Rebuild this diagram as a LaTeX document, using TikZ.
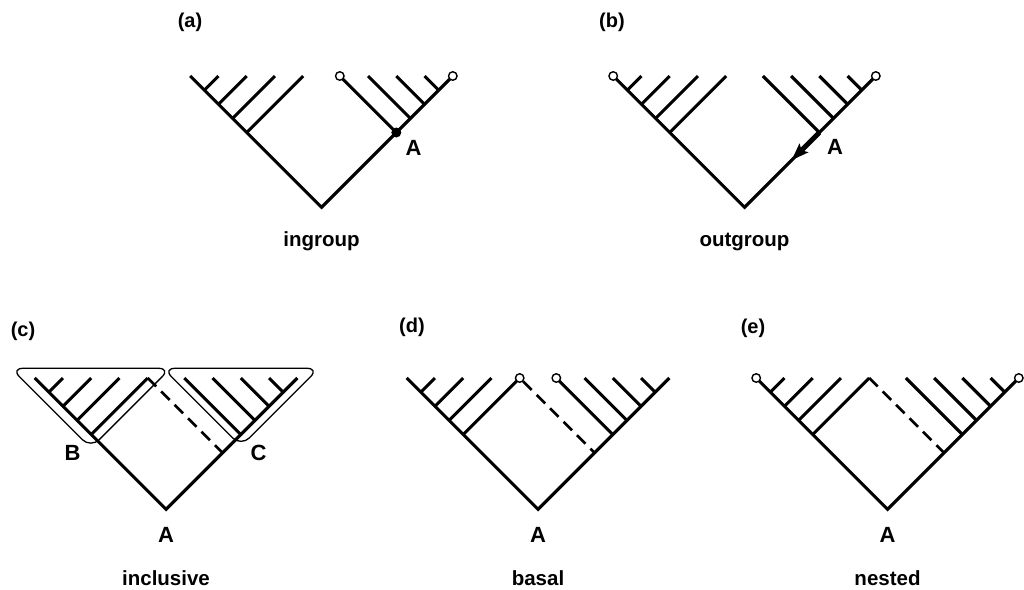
\documentclass[tikz,border=0pt]{standalone}
\usepackage{fontspec}
\setmainfont{Liberation Sans}
\usetikzlibrary{arrows.meta,calc}
\newcommand\cladetree[3]{%
  \coordinate (#1root) at (#2,#3+131.3);
  \foreach \k/\d in {0/18.3,1/46.55,2/74.8,3/103.05,4/131.3}{%
    \coordinate (#1L\k) at ({#2-\d},#3);
    \coordinate (#1R\k) at ({#2+\d},#3);
    \coordinate (#1LJ\k) at ({#2-(131.3+\d)/2},{#3+(131.3-\d)/2});
    \coordinate (#1RJ\k) at ({#2+(131.3+\d)/2},{#3+(131.3-\d)/2});
  }%
  \coordinate (#1D) at ({#2+(131.3-18.3)/2},{#3+(131.3+18.3)/2});
  \draw[branch] (#1L4) -- (#1root) -- (#1R4);
  \foreach \k in {0,...,3}{%
    \draw[branch] (#1L\k) -- (#1LJ\k);
    \draw[branch] (#1R\k) -- (#1RJ\k);
  }%
}
\begin{document}
\begin{tikzpicture}[x=1pt,y=-1pt,
  branch/.style={line width=3.1pt},
  dashline/.style={line width=2.6pt,dash pattern=on 12pt off 7pt},
  tipcirc/.style={circle,draw,fill=white,inner sep=0pt,minimum size=8.5pt,line width=1.4pt},
  dotnode/.style={circle,fill=black,inner sep=0pt,minimum size=10pt},
  hull/.style={line width=1.3pt,rounded corners=12pt},
  lab/.style={font=\fontsize{20}{24}\selectfont\bfseries,inner sep=0pt},
  letter/.style={font=\fontsize{22}{26}\selectfont\bfseries,inner sep=0pt},
  captext/.style={font=\fontsize{20.5}{24}\selectfont\bfseries,inner sep=0pt,anchor=base}]
\useasboundingbox (0,0) rectangle (1024,589);
\fill[white] (0,0) rectangle (1024,589);

% (a) ingroup
\cladetree{a}{321.5}{76}
\node[tipcirc] (aR4c) at (aR4) {};
\node[tipcirc] (aR0c) at (aR0) {};
\node[dotnode] (aA) at (aRJ0) {};
\node[lab] (la) at (190,22.5) {(a)};
\node[letter] (aAl) at (413.5,148) {A};
\node[captext] (ca) at (321.5,246.7) {ingroup};

% (b) outgroup
\cladetree{b}{744.5}{76}
\node[tipcirc] (bL4c) at (bL4) {};
\node[tipcirc] (bR4c) at (bR4) {};
\coordinate (bAT) at ($(bRJ0)!0.37!(broot)$);
\draw[line width=5pt,-{Stealth[length=17pt,width=12pt,inset=3pt]}] (bRJ0) -- (bAT);
\node[lab] (lb) at (612,22.5) {(b)};
\node[letter] (bAl) at (835,147) {A};
\node[captext] (cb) at (744.5,246.7) {outgroup};

% (c) inclusive
\cladetree{c}{166}{378}
\draw[dashline] (cL0) -- (cD);
\draw[hull] (11,368.3) -- (170.6,368.3) -- (90.8,448.1) -- cycle;
\draw[hull] (163,368.3) -- (319,368.3) -- (241,446.3) -- cycle;
\node[lab] (lc) at (23,331) {(c)};
\node[letter] (cB) at (72.5,452.5) {B};
\node[letter] (cC) at (258.5,452.5) {C};
\node[letter] (cAl) at (166,535) {A};
\node[captext] (cc) at (166,585) {inclusive};

% (d) basal
\cladetree{d}{538}{378}
\node[tipcirc] (dL0c) at (dL0) {};
\node[tipcirc] (dR0c) at (dR0) {};
\draw[dashline] (dL0c) -- (dD);
\node[lab] (ld) at (412,327.5) {(d)};
\node[letter] (dAl) at (538,535) {A};
\node[captext] (cd) at (538,585) {basal};

% (e) nested
\cladetree{e}{887.5}{378}
\node[tipcirc] (eL4c) at (eL4) {};
\node[tipcirc] (eR4c) at (eR4) {};
\draw[dashline] (eL0) -- (eD);
\node[lab] (le) at (753,328.5) {(e)};
\node[letter] (eAl) at (887.5,535) {A};
\node[captext] (ce) at (887.5,585) {nested};
\end{tikzpicture}
\end{document}
